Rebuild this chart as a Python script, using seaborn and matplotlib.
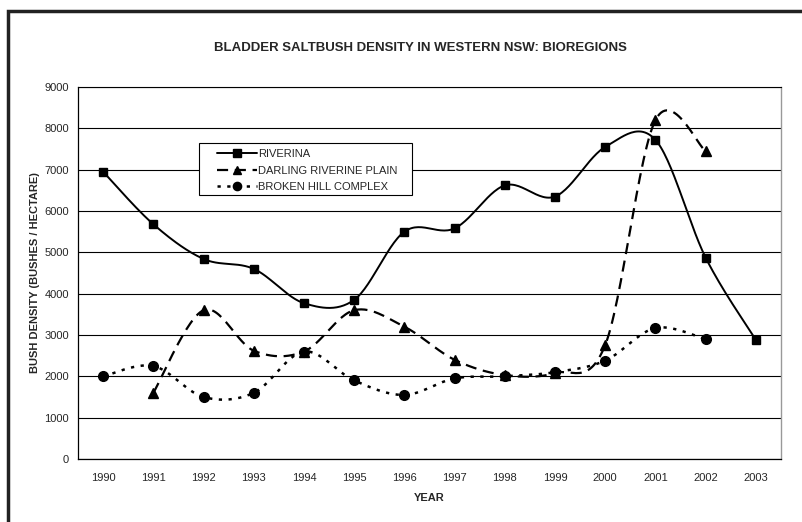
import numpy as np
import pandas as pd
import seaborn as sns
import matplotlib.pyplot as plt
from matplotlib.lines import Line2D
from matplotlib.patches import Rectangle

sns.set_style("white")
plt.rcParams['font.family'] = ['Liberation Sans', 'DejaVu Sans']

years = list(range(1990, 2004))
riverina = [6950, 5680, 4840, 4600, 3770, 3850, 5500, 5580, 6620, 6350, 7550, 7720, 4870, 2880]
darling = [np.nan, 1600, 3600, 2620, 2600, 3600, 3200, 2400, 2030, 2080, 2760, 8200, 7450, np.nan]
broken_hill = [2000, 2250, 1500, 1600, 2600, 1900, 1550, 1950, 2000, 2100, 2380, 3170, 2900, np.nan]

df = pd.DataFrame({"year": years, "RIVERINA": riverina,
                   "DARLING RIVERINE PLAIN": darling,
                   "BROKEN HILL COMPLEX": broken_hill})


def smooth(x, y, n=30):
    # Excel-like smoothed line (Catmull-Rom style bezier)
    x = np.asarray(x, float)
    y = np.asarray(y, float)
    ok = ~np.isnan(y)
    x, y = x[ok], y[ok]
    p = np.column_stack([x, y])
    out = [p[0]]
    t = np.linspace(0, 1, n)[1:, None]
    for i in range(len(p) - 1):
        p0 = p[i - 1] if i > 0 else p[i]
        p3 = p[i + 2] if i + 2 < len(p) else p[i + 1]
        b1 = p[i] + (p[i + 1] - p0) / 6
        b2 = p[i + 1] - (p3 - p[i]) / 6
        seg = ((1 - t) ** 3) * p[i] + 3 * ((1 - t) ** 2) * t * b1 + 3 * (1 - t) * t ** 2 * b2 + t ** 3 * p[i + 1]
        out.extend(seg)
    out = np.array(out)
    return out[:, 0], out[:, 1]


fig = plt.figure(figsize=(8.03, 5.22), dpi=100)
ax = fig.add_axes([78 / 803, 1 - 459 / 522, 703 / 803, 372 / 522])

styles = {
    "RIVERINA": dict(marker="s", ms=6, lw=1.4, dashes=None),
    "DARLING RIVERINE PLAIN": dict(marker="^", ms=6.5, lw=1.6, dashes=(5, 3)),
    "BROKEN HILL COMPLEX": dict(marker="o", ms=7, lw=1.8, dashes=(1.3, 2.6)),
}

handles = []
for name, st in styles.items():
    sx, sy = smooth(df["year"], df[name])
    sns.lineplot(x=sx, y=sy, ax=ax, color="black", lw=st["lw"], sort=False,
                 estimator=None)
    l = ax.lines[-1]
    if st["dashes"]:
        l.set_dashes(st["dashes"])
    ax.plot(df["year"], df[name], ls="none", marker=st["marker"], ms=st["ms"],
            color="black", zorder=3)
    h = Line2D([], [], color="black", lw=st["lw"], marker=st["marker"], ms=st["ms"] * 0.85)
    if st["dashes"]:
        h.set_dashes(st["dashes"])
    handles.append(h)

ax.set_xlim(1989.5, 2003.5)
ax.set_ylim(0, 9000)
ax.set_yticks(range(0, 9001, 1000))
ax.set_xticks(years)
ax.set_xticklabels([str(y) for y in years])
ax.set_xticks(np.arange(1989.5, 2004, 1), minor=True)
ax.tick_params(axis="x", which="major", length=0, labelsize=8, pad=10)
ax.tick_params(axis="x", which="minor", length=4, width=0.8, direction="out", color="black")
ax.tick_params(axis="y", length=3.5, width=0.8, direction="out", color="black", labelsize=8, pad=3)
ax.yaxis.grid(True, color="black", lw=0.8)
ax.set_axisbelow(True)
for s in ["left", "bottom"]:
    ax.spines[s].set_color("black")
    ax.spines[s].set_linewidth(0.9)
ax.spines["top"].set_color("black")
ax.spines["top"].set_linewidth(0.8)
ax.spines["right"].set_color("#999999")
ax.spines["right"].set_linewidth(1.0)

ax.set_xlabel("YEAR", fontsize=8, fontweight="bold", labelpad=7)
ax.set_ylabel("BUSH DENSITY (BUSHES / HECTARE)", fontsize=8, fontweight="bold", labelpad=3)
fig.text(420 / 803, 1 - 48 / 522, "BLADDER SALTBUSH DENSITY IN WESTERN NSW: BIOREGIONS",
         ha="center", va="center", fontsize=9.5, fontweight="bold")

# legend box drawn separately so the padding matches the original
ax.add_patch(Rectangle(((199 - 78) / 703, (459 - 195) / 372), 213 / 703, 52 / 372,
                       transform=ax.transAxes, facecolor="white", edgecolor="black",
                       lw=0.8, zorder=4))
leg = ax.legend(handles, list(styles.keys()), loc="upper left",
                bbox_to_anchor=((213 - 78) / 703, (459 - 145) / 372),
                fontsize=8, frameon=False, handlelength=3.6,
                handletextpad=0.1, labelspacing=0.6, borderpad=0.35,
                borderaxespad=0)
leg.set_zorder(5)

fig.patches.append(Rectangle((8 / 803, -0.05), 1.1, 1 - 11 / 522 + 0.05, transform=fig.transFigure,
                             fill=False, edgecolor="#222222", lw=2.5))

fig.savefig("out.png", dpi=100)
